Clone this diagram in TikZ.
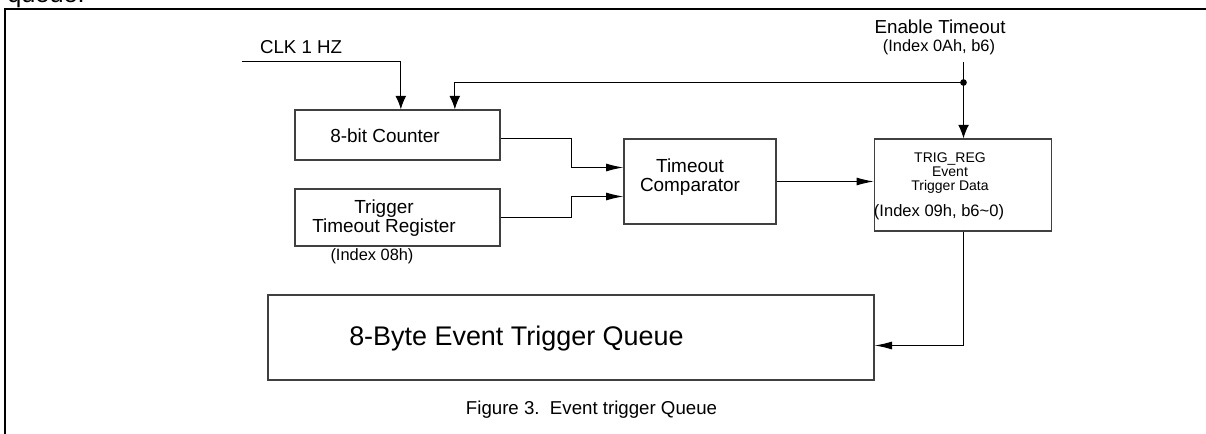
\documentclass[tikz,border=0pt]{standalone}
\usepackage{fontspec}
\setmainfont{Liberation Sans}
\usetikzlibrary{arrows.meta,calc}
\newcommand{\fs}[1]{\fontsize{#1}{#1}\selectfont}
\begin{document}
\begin{tikzpicture}[x=0.75pt,y=-0.75pt,
  box/.style={draw=black!75,line width=1pt,rectangle,inner sep=0pt},
  txt/.style={inner sep=0pt,align=center,text=black},
  wire/.style={draw=black,line width=0.75pt},
  harrow/.style={wire,-{Latex[length=13pt,width=6pt]}},
  varrow/.style={wire,-{Latex[length=10pt,width=8pt]}}]
\useasboundingbox (0,0) rectangle (1206,434);
\begin{scope}
\clip (0,0) rectangle (1206,434);
\node[txt,anchor=base west,font=\fs{19}] (topq) at (7,3) {queue.};
\end{scope}
% frame
\draw[line width=1.5pt] (5,434) -- (5,9) -- (1206,9);
% boxes
\node[box,minimum width=153.75pt,minimum height=37.5pt] (cnt) at (397.5,135) {};
\node[box,minimum width=153.75pt,minimum height=42.75pt] (reg) at (397.5,217.5) {};
\node[box,minimum width=114pt,minimum height=63.75pt] (comp) at (700,181.5) {};
\node[box,minimum width=132.75pt,minimum height=69pt] (trig) at (963,185) {};
\node[box,minimum width=454.5pt,minimum height=63.75pt] (queue) at (571,337.5) {};
% texts
\node[txt,anchor=base,font=\fs{14}] (clk) at (301,54) {CLK 1 HZ};
\node[txt,font=\fs{14.2}] (cnttxt) at (385,136) {8-bit Counter};
\node[txt,font=\fs{14.2}] (regtxt) at (384,218.5) {Trigger\\Timeout Register};
\node[txt,font=\fs{12.3}] (regidx) at (372,256) {(Index 08h)};
\node[txt,font=\fs{14.2}] (comptxt) at (690,177.5) {Timeout\\Comparator};
\node[txt,font=\fs{14.1}] (en) at (940,27) {Enable Timeout};
\node[txt,font=\fs{12.3}] (enidx) at (939,47) {(Index 0Ah, b6)};
\node[txt,font=\fs{10.5}] (trigtxt) at (950,173) {TRIG\_REG\\Event\\Trigger Data};
\node[txt,font=\fs{12.4}] (trigidx) at (939,212) {(Index 09h, b6\textasciitilde0)};
\node[txt,anchor=base west,font=\fs{20.2}] (queuetxt) at (349,346) {8-Byte Event Trigger Queue};
\node[txt,anchor=base,font=\fs{14}] (cap) at (591.5,414) {Figure 3.\ \ Event trigger Queue};
% connectors
\coordinate (clkin) at (242,61.5);
\coordinate (entop) at (963.5,62);
\coordinate (dot) at (963.5,82.5);
\draw[varrow] (clkin) -| ($(cnt.north west)+(106.5,0)$);
\draw[varrow] (entop) -- (trig.north -| entop);
\draw[varrow] (dot) -| ($(cnt.north west)+(160.5,0)$);
\fill (dot) circle (2.5pt);
\draw[harrow] (cnt.east |- 0,138.5) -| (571.5,167.5) -- (comp.west |- 0,167.5);
\draw[harrow] (reg.east |- 0,217.5) -| (571.5,196.5) -- (comp.west |- 0,196.5);
\draw[harrow] (comp.east) -- (comp.east -| trig.west);
\draw[harrow] (trig.south -| entop) |- (queue.east |- 0,345.5);
\end{tikzpicture}
\end{document}
